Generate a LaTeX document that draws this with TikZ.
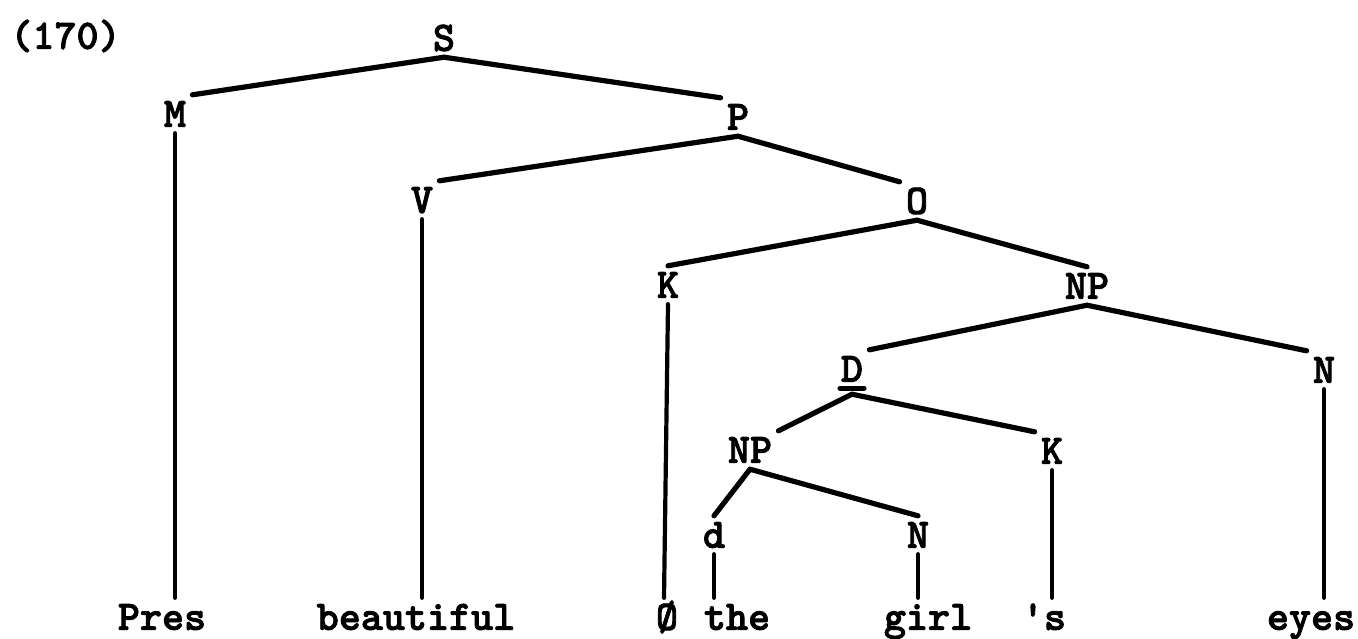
\documentclass[tikz,border=0pt]{standalone}
\usepackage{fontspec}
\newfontfamily\tyfont{lmmonolt10-bold}[Extension=.otf,FakeBold=2]

\begin{document}
\begin{tikzpicture}[x=0.5pt,y=-0.5pt,
  every node/.style={font=\tyfont\fontsize{21}{24}\selectfont},
  lb/.style={inner sep=3pt,text height=12.8pt,text depth=0pt},
  br/.style={line width=2.6pt,line cap=round},
  st/.style={line width=2.1pt,line cap=round}]
\useasboundingbox (0,0) rectangle (1358,638);
\node[lb,anchor=west,inner sep=0pt] (num) at (10,36) {(170)};
% categories
\node[lb] (s) at (444,38) {S};
\node[lb] (m) at (175,114) {M};
\node[lb] (p) at (738,117) {P};
\node[lb] (v) at (422,200) {V};
\node[lb] (o) at (917,201) {O};
\node[lb] (k) at (668,285) {K};
\node[lb] (np) at (1087,286) {NP};
\node[lb] (det) at (852,369) {D};
\node[lb] (n) at (1324,370) {N};
\node[lb] (npb) at (750,450) {NP};
\node[lb] (kb) at (1052,451) {K};
\node[lb] (dd) at (714,535) {d};
\node[lb] (nb) at (918,535) {N};
% words
\node[lb] (pres) at (162,617) {Pres};
\node[lb] (beau) at (416,617) {beautiful};
\node[lb] (zero) at (667,617) {Ø};
\node[lb] (the) at (737,617) {the};
\node[lb] (girl) at (928,617) {girl};
\node[lb] (poss) at (1044,617) {\textquotesingle s};
\node[lb] (eyes) at (1311,617) {eyes};
\coordinate (dj) at ([yshift=-3pt]det.south);
% branches
\draw[br] (s.south) -- (m.north east);
\draw[br] (s.south) -- (p.north west);
\draw[br] (p.south) -- (v.north east);
\draw[br] (p.south) -- (o.north west);
\draw[br] (o.south) -- (k.north);
\draw[br] (o.south) -- (np.north);
\draw[br] (np.south) -- (det.north east);
\draw[br] (np.south) -- (n.north west);
\draw[br] ([xshift=-6pt]det.south) -- ([xshift=6pt]det.south);
\draw[br] (dj) -- (npb.north east);
\draw[br] (dj) -- (kb.north west);
\draw[br] (npb.south) -- (dd.north);
\draw[br] (npb.south) -- (nb.north);
% stems to the words
\draw[st] (m.south) -- (m.south |- pres.north);
\draw[st] (v.south) -- (v.south |- beau.north);
\draw[st] (k.south) -- ([xshift=-2pt]k.south |- zero.north);
\draw[st] (dd.south) -- (dd.south |- the.north);
\draw[st] (nb.south) -- (nb.south |- girl.north);
\draw[st] (kb.south) -- (kb.south |- poss.north);
\draw[st] (n.south) -- (n.south |- eyes.north);
\end{tikzpicture}
\end{document}
